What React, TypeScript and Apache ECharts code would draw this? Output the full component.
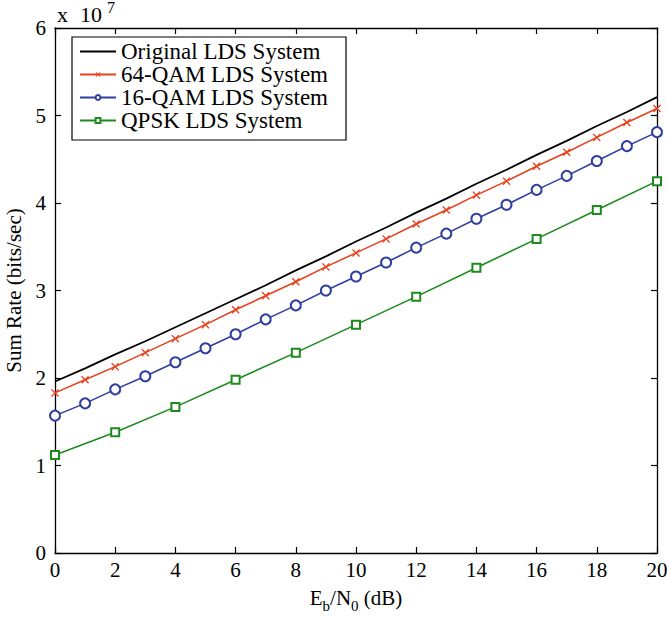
import React, { useEffect, useRef } from "react";
import * as echarts from "echarts";

// Eb/N0 axis (dB)
const snrAll = [0, 1, 2, 3, 4, 5, 6, 7, 8, 9, 10, 11, 12, 13, 14, 15, 16, 17, 18, 19, 20];
const snrQpsk = [0, 2, 4, 6, 8, 10, 12, 14, 16, 18, 20];

// Sum rates in units of 1e7 bits/sec
const originalRate = [1.96, 2.11, 2.27, 2.42, 2.58, 2.74, 2.90, 3.06, 3.23, 3.39, 3.56, 3.72, 3.89, 4.05, 4.22, 4.38, 4.55, 4.71, 4.88, 5.04, 5.21];
const qam64Rate = [1.83, 1.98, 2.13, 2.29, 2.45, 2.61, 2.78, 2.94, 3.10, 3.27, 3.43, 3.59, 3.76, 3.92, 4.09, 4.25, 4.42, 4.58, 4.75, 4.92, 5.08];
const qam16Rate = [1.57, 1.71, 1.87, 2.02, 2.18, 2.34, 2.50, 2.67, 2.83, 3.00, 3.16, 3.32, 3.49, 3.65, 3.82, 3.98, 4.15, 4.31, 4.48, 4.65, 4.81];
const qpskRate = [1.12, 1.38, 1.67, 1.98, 2.29, 2.61, 2.93, 3.26, 3.59, 3.92, 4.25];

const seriesNames = ["Original LDS System", "64-QAM LDS System", "16-QAM LDS System", "QPSK LDS System"];

const FONT = "Liberation Serif";
const RED = "#e8401c";
const BLUE = "#2f3fa0";
const GREEN = "#1d8a1d";

const crossPath =
  "path://M0,1.2 L1.2,0 L5,3.8 L8.8,0 L10,1.2 L6.2,5 L10,8.8 L8.8,10 L5,6.2 L1.2,10 L0,8.8 L3.8,5 Z";

const pairs = (xs: number[], ys: number[]) => xs.map((x, i) => [x, ys[i]]);

export default function App() {
  const ref = useRef<HTMLDivElement>(null);

  useEffect(() => {
    if (!ref.current) return;
    const chart = echarts.init(ref.current, null, { renderer: "svg" });

    const axisCommon = {
      axisLine: { show: true, onZero: false, lineStyle: { color: "#000", width: 1.3 } },
      axisTick: { show: true, inside: true, length: 6, lineStyle: { color: "#000", width: 1.2 } },
      splitLine: { show: false },
    };

    chart.setOption({
      animation: false,
      backgroundColor: "#fff",
      textStyle: { fontFamily: FONT, color: "#000" },
      grid: { left: 55, right: 10, top: 28, bottom: 65, containLabel: false, outerBoundsMode: "none" },
      graphic: [
        {
          type: "text",
          left: 57,
          top: 3,
          style: { text: "x", fontFamily: FONT, fontSize: 22, fill: "#000" },
        },
        {
          type: "text",
          left: 80,
          top: 3,
          style: { text: "10", fontFamily: FONT, fontSize: 22, fill: "#000" },
        },
        {
          type: "text",
          left: 107,
          top: -1,
          style: { text: "7", fontFamily: FONT, fontSize: 16, fill: "#000" },
        },
      ],
      legend: {
        orient: "vertical",
        left: 72,
        top: 37,
        data: [
          { name: seriesNames[0], itemStyle: { opacity: 0 } },
          seriesNames[1],
          seriesNames[2],
          seriesNames[3],
        ],
        backgroundColor: "#fff",
        borderColor: "#000",
        borderWidth: 1.2,
        borderRadius: 0,
        padding: [3, 18, 8, 7],
        itemGap: 0,
        itemWidth: 36,
        itemHeight: 6,
        selectedMode: false,
        textStyle: { fontFamily: FONT, fontSize: 23, color: "#000" },
      },
      xAxis: [
        {
          type: "value",
          min: 0,
          max: 20,
          interval: 2,
          ...axisCommon,
          axisLabel: { fontFamily: FONT, fontSize: 21, color: "#000", margin: 6 },
          name: "{a|E}{s|b}{a|/N}{s|0}{a| (dB)}",
          nameLocation: "middle",
          nameGap: 31,
          nameTextStyle: {
            rich: {
              a: { fontFamily: FONT, fontSize: 21, color: "#000", verticalAlign: "bottom", lineHeight: 24 },
              s: { fontFamily: FONT, fontSize: 15, color: "#000", verticalAlign: "bottom", lineHeight: 24, padding: [0, 0, -5, 0] },
            },
          },
        },
        {
          type: "value",
          position: "top",
          min: 0,
          max: 20,
          interval: 2,
          ...axisCommon,
          axisLabel: { show: false },
        },
      ],
      yAxis: [
        {
          type: "value",
          min: 0,
          max: 6,
          interval: 1,
          ...axisCommon,
          axisLabel: { fontFamily: FONT, fontSize: 21, color: "#000", margin: 9 },
          name: "Sum Rate (bits/sec)",
          nameLocation: "middle",
          nameGap: 25,
          nameTextStyle: { fontFamily: FONT, fontSize: 21, color: "#000" },
        },
        {
          type: "value",
          position: "right",
          min: 0,
          max: 6,
          interval: 1,
          ...axisCommon,
          axisLabel: { show: false },
        },
      ],
      series: [
        {
          name: seriesNames[0],
          type: "line",
          data: pairs(snrAll, originalRate),
          showSymbol: false,
          symbol: "none",
          lineStyle: { color: "#000", width: 1.8 },
          itemStyle: { color: "#000" },
        },
        {
          name: seriesNames[1],
          type: "line",
          data: pairs(snrAll, qam64Rate),
          symbol: crossPath,
          symbolSize: 8,
          lineStyle: { color: RED, width: 1.6 },
          itemStyle: { color: RED },
        },
        {
          name: seriesNames[2],
          type: "line",
          data: pairs(snrAll, qam16Rate),
          symbol: "emptyCircle",
          symbolSize: 10,
          lineStyle: { color: BLUE, width: 1.6 },
          itemStyle: { color: BLUE, borderColor: BLUE, borderWidth: 1.6 },
        },
        {
          name: seriesNames[3],
          type: "line",
          data: pairs(snrQpsk, qpskRate),
          symbol: "emptyRect",
          symbolSize: 8,
          lineStyle: { color: GREEN, width: 1.6 },
          itemStyle: { color: GREEN, borderColor: GREEN, borderWidth: 1.6 },
        },
      ],
    });

    return () => chart.dispose();
  }, []);

  return (
    <div
      ref={ref}
      style={{ position: "absolute", left: 0, top: 0, width: 667, height: 618 }}
    />
  );
}
